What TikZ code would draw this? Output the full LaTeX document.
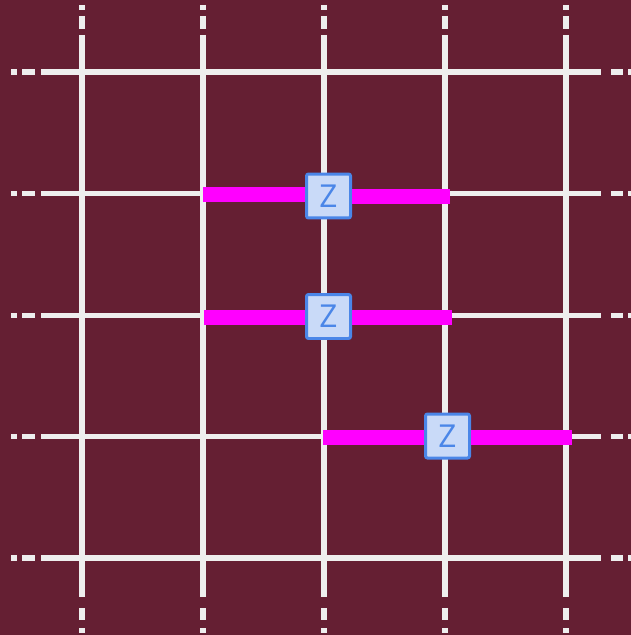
\documentclass[tikz,border=0pt]{standalone}
\usepackage{xcolor}
\usepackage{fontspec}
\usepackage{tikz}
\setsansfont{Open Sans}
\definecolor{board}{RGB}{101,31,51}
\definecolor{wire}{RGB}{238,238,238}
\definecolor{coupler}{RGB}{255,0,255}
\definecolor{gatefill}{RGB}{201,218,248}
\definecolor{gateline}{RGB}{74,134,232}

\begin{document}
\begin{tikzpicture}[
  x=0.02cm, y=-0.02cm,
  grid/.style={draw=wire, line width=0.115cm},
  bar/.style={draw=coupler, line width=0.3cm},
  zgate/.style={draw=gateline, fill=gatefill, line width=0.06cm,
                rounded corners=0.04cm, minimum size=0.88cm, inner sep=0pt,
                text=gateline, font=\sffamily\fontsize{18}{18}\selectfont},
]
  \fill[board] (0,0) rectangle (631,635);
  \useasboundingbox (0,0) rectangle (631,635);

  % vertical wires
  \foreach \x in {82,203,324,445,566}
    \path[grid] (\x,5) -- (\x,10) (\x,16) -- (\x,29) (\x,35) -- (\x,597)
                (\x,608) -- (\x,620) (\x,628) -- (\x,633);
  % horizontal wires
  \foreach \y in {72,193.5,315.5,436.5,558}
    \path[grid] (11,\y) -- (17,\y) (22,\y) -- (35,\y) (41,\y) -- (601,\y)
                (611,\y) -- (623,\y) (628,\y) -- (634,\y);

  \node[zgate] (z1) at (328.5,196) {Z};
  \node[zgate] (z2) at (328.5,316.5) {Z};
  \node[zgate] (z3) at (447.5,436) {Z};

  % couplings
  \coordinate (a1) at (203,194.5);
  \coordinate (b1) at (450,196.5);
  \coordinate (a2) at (204,317.5);
  \coordinate (b2) at (452,317);
  \coordinate (a3) at (323,437.5);
  \coordinate (b3) at (572,437.5);
  \path[bar] (a1) -- (a1 -| z1.west) (z1.east |- b1) -- (b1);
  \path[bar] (a2) -- (a2 -| z2.west) (z2.east |- b2) -- (b2);
  \path[bar] (a3) -- (a3 -| z3.west) (z3.east |- b3) -- (b3);
\end{tikzpicture}
\end{document}
